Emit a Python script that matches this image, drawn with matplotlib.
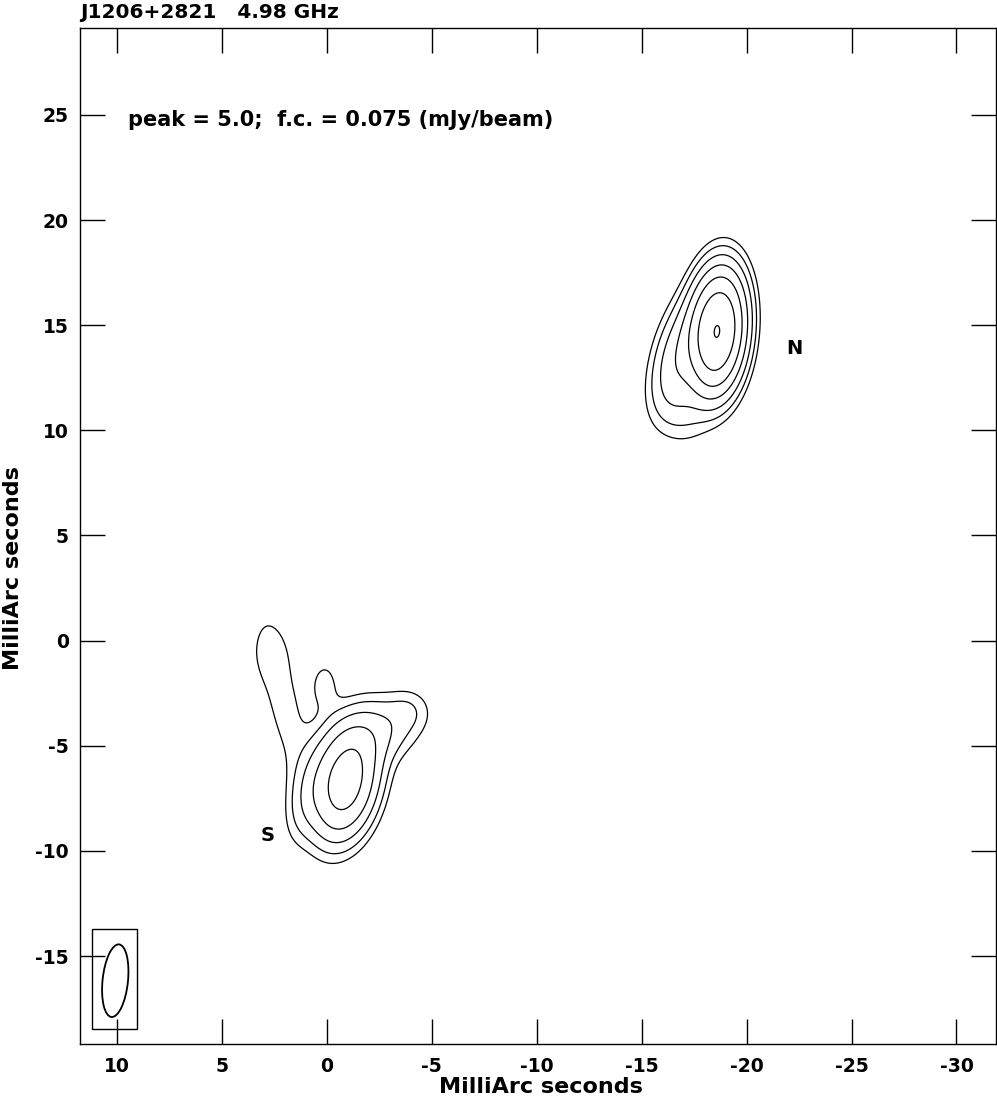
import numpy as np
import matplotlib.pyplot as plt
from matplotlib.patches import Ellipse, Rectangle

plt.rcParams['font.family'] = ['DejaVu Sans']
plt.rcParams['font.weight'] = 'bold'
plt.rcParams['axes.unicode_minus'] = False

# --- map info ---
source_name = "J1206+2821"
frequency = "4.98 GHz"
peak = 5.0          # mJy/beam
first_contour = 0.075
contour_steps = [1, 2, 4, 8, 16, 32, 64]

# --- Gaussian components of the restored image (mas, mJy/beam, deg) ---
#            N core  N ext  N ext2  S core  S fan  S left  finger  ridge  bump  S tr
comp_x = [-18.6, -16.8, -17.0, -0.9, -2.2, 0.8, 2.7, 2.1, 0.1, -3.9]
comp_y = [14.7, 13.6, 11.2, -6.75, -4.4, -7.1, -0.6, -2.8, -2.1, -3.3]
comp_peak = [4.84, 0.5, 0.15, 1.7, 0.3, 0.2, 0.05, 0.1, 0.1, 0.07]
comp_sx = [0.7, 0.7, 0.8, 0.85, 1.5, 0.6, 0.6, 0.75, 0.5, 0.6]
comp_sy = [1.55, 1.7, 1.2, 1.55, 0.95, 1.5, 0.9, 3.4, 0.9, 0.6]
comp_pa = [5, 15, 0, 12, -27, 15, 0, -12, 0, 0]

# restoring beam
beam_x, beam_y = 10.08, -16.17
beam_major, beam_minor, beam_pa = 3.47, 1.21, 6
beam_box = [11.19, -18.47, 9.05, -13.72]

# labels for the two components
label_text = ["N", "S"]
label_x = [-22.3, 2.8]
label_y = [13.9, -9.25]

xticks = [10, 5, 0, -5, -10, -15, -20, -25, -30]
yticks = [-15, -10, -5, 0, 5, 10, 15, 20, 25]


def model_image(xx, yy):
    img = np.zeros_like(xx)
    for x0, y0, p, sx, sy, pa in zip(comp_x, comp_y, comp_peak, comp_sx, comp_sy, comp_pa):
        t = np.radians(pa)
        dx, dy = xx - x0, yy - y0
        u = dx * np.cos(t) + dy * np.sin(t)
        v = -dx * np.sin(t) + dy * np.cos(t)
        img += p * np.exp(-0.5 * ((u / sx) ** 2 + (v / sy) ** 2))
    return img


xs = np.arange(-33, 13, 0.04)
ys = np.arange(-20, 30, 0.04)
XX, YY = np.meshgrid(xs, ys)
img = model_image(XX, YY)
levels = [first_contour * s for s in contour_steps]

fig = plt.figure(figsize=(9.97, 10.99), dpi=100)
ax = fig.add_axes([80 / 997, 55 / 1099, 915.5 / 997, 1016 / 1099])

ax.contour(XX, YY, img, levels=levels, colors='black', linewidths=0.9)

# beam
ax.add_patch(Rectangle((beam_box[2], beam_box[1]), beam_box[0] - beam_box[2],
                       beam_box[3] - beam_box[1], fill=False, ec='black', lw=1))
ax.add_patch(Ellipse((beam_x, beam_y), beam_minor, beam_major, angle=beam_pa,
                     fill=False, ec='black', lw=1.3))

for t, x, y in zip(label_text, label_x, label_y):
    ax.text(x, y, t, fontsize=14, fontweight='bold', ha='center', va='center')

ax.text(0.052, 0.909, f"peak = {peak:.1f};  f.c. = {first_contour} (mJy/beam)",
        transform=ax.transAxes, fontsize=15, fontweight='bold', va='center')

ax.set_xlim(11.76, -31.86)
ax.set_ylim(-19.18, 29.13)
ax.set_xticks(xticks)
ax.set_yticks(yticks)
ax.tick_params(direction='in', length=18, width=1, top=True, right=True,
               labelsize=13.5, pad=9)
ax.tick_params(axis='y', pad=8)
for lab in ax.get_xticklabels() + ax.get_yticklabels():
    lab.set_fontweight('bold')
for s in ax.spines.values():
    s.set_linewidth(1)

fig.text(80 / 997, 1 - 18 / 1099, f"{source_name}   {frequency}", fontsize=14.5,
         fontweight='bold', ha='left', va='baseline')
fig.text(541 / 997, 1 - 1077 / 1099, "MilliArc seconds", fontsize=16,
         fontweight='bold', ha='center', va='top')
fig.text(3 / 997, 531 / 1099, "MilliArc seconds", fontsize=16,
         fontweight='bold', ha='left', va='center', rotation=90)

fig.savefig("out.png", dpi=100)
